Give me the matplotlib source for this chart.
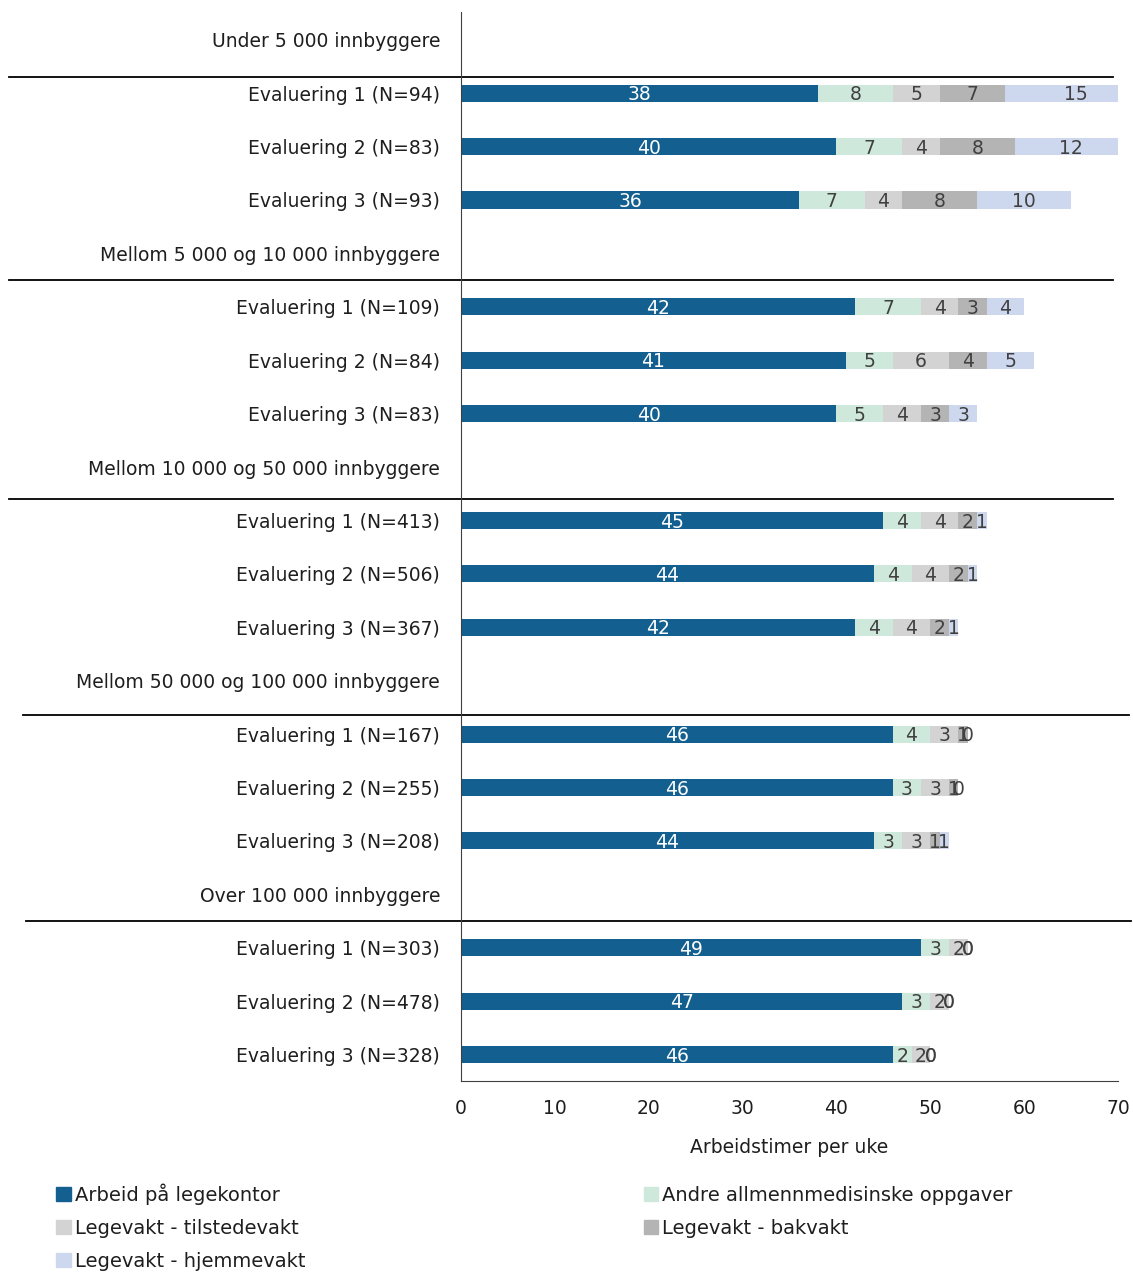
import numpy as np
import matplotlib
matplotlib.use("Agg")
import matplotlib.pyplot as plt
from matplotlib.patches import Patch

plt.rcParams['font.family'] = ['DejaVu Sans']

# rows top to bottom; group headers carry no bars
row_labels = [
    "Under 5 000 innbyggere",
    "Evaluering 1 (N=94)", "Evaluering 2 (N=83)", "Evaluering 3 (N=93)",
    "Mellom 5 000 og 10 000 innbyggere",
    "Evaluering 1 (N=109)", "Evaluering 2 (N=84)", "Evaluering 3 (N=83)",
    "Mellom 10 000 og 50 000 innbyggere",
    "Evaluering 1 (N=413)", "Evaluering 2 (N=506)", "Evaluering 3 (N=367)",
    "Mellom 50 000 og 100 000 innbyggere",
    "Evaluering 1 (N=167)", "Evaluering 2 (N=255)", "Evaluering 3 (N=208)",
    "Over 100 000 innbyggere",
    "Evaluering 1 (N=303)", "Evaluering 2 (N=478)", "Evaluering 3 (N=328)",
]
header_rows = [0, 4, 8, 12, 16]

series = ["Arbeid på legekontor", "Andre allmennmedisinske oppgaver",
          "Legevakt - tilstedevakt", "Legevakt - bakvakt", "Legevakt - hjemmevakt"]
colors = ["#135f8f", "#cfe8dc", "#d3d3d3", "#b4b4b4", "#cdd8ef"]

# hours per week for the 15 evaluation rows
legekontor = [38, 40, 36, 42, 41, 40, 45, 44, 42, 46, 46, 44, 49, 47, 46]
andre = [8, 7, 7, 7, 5, 5, 4, 4, 4, 4, 3, 3, 3, 3, 2]
tilstede = [5, 4, 4, 4, 6, 4, 4, 4, 4, 3, 3, 3, 2, 2, 2]
bakvakt = [7, 8, 8, 3, 4, 3, 2, 2, 2, 1, 1, 1, 0, 0, 0]
hjemme = [15, 12, 10, 4, 5, 3, 1, 1, 1, 0, 0, 1, 0, 0, 0]

data = np.array([legekontor, andre, tilstede, bakvakt, hjemme], dtype=float)
bar_rows = [i for i in range(len(row_labels)) if i not in header_rows]

txt = "#1e1e1e"
fig = plt.figure(figsize=(11.33, 12.75), dpi=100)
ax = fig.add_axes([0.4069, 0.152, 0.5799, 0.8386])

left = np.zeros(len(bar_rows))
for k in range(len(series)):
    vals = data[k]
    ax.barh(bar_rows, vals, left=left, height=0.32, color=colors[k],
            label=series[k])
    for y, l, v in zip(bar_rows, left, vals):
        ax.text(l + v / 2, y + 0.03, f"{int(v)}", ha="center", va="center",
                fontsize=13.5, color="white" if k == 0 else "#404040")
    left = left + vals

ax.set_xlim(0, 70)
ax.set_ylim(19.5, -0.52)
ax.set_xticks(range(0, 71, 10))
ax.set_yticks(range(len(row_labels)))
ax.set_yticklabels(row_labels, color=txt)
ax.tick_params(axis="y", length=0, pad=15, labelsize=13.5)
ax.tick_params(axis="x", length=0, pad=12.5, labelsize=13.5, labelcolor=txt)
ax.set_xlabel("Arbeidstimer per uke", fontsize=13.5, labelpad=15, color=txt)
for s in ["top", "right"]:
    ax.spines[s].set_visible(False)
for s in ["left", "bottom"]:
    ax.spines[s].set_color("#404040")

# separator lines under each group header
sep_y = [0.69, 4.49, 8.59, 12.65, 16.5]
sep_x = [(-48.2, 69.5), (-48.2, 69.5), (-48.2, 69.5), (-46.7, 71.2), (-46.3, 71.4)]
for y, (x0, x1) in zip(sep_y, sep_x):
    ax.plot([x0, x1], [y, y], color="black", lw=1.3, clip_on=False)

handles = [Patch(color=c) for c in colors]
order = [0, 2, 4, 1, 3]
fig.legend([handles[i] for i in order], [series[i] for i in order],
           loc="upper left", bbox_to_anchor=(0.043, 0.078), ncol=2,
           frameon=False, fontsize=14, handlelength=0.75, handleheight=0.75,
           handletextpad=0.2, columnspacing=17.4, labelspacing=0.72,
           borderaxespad=0, labelcolor=txt)

fig.savefig("out.png", dpi=100)
